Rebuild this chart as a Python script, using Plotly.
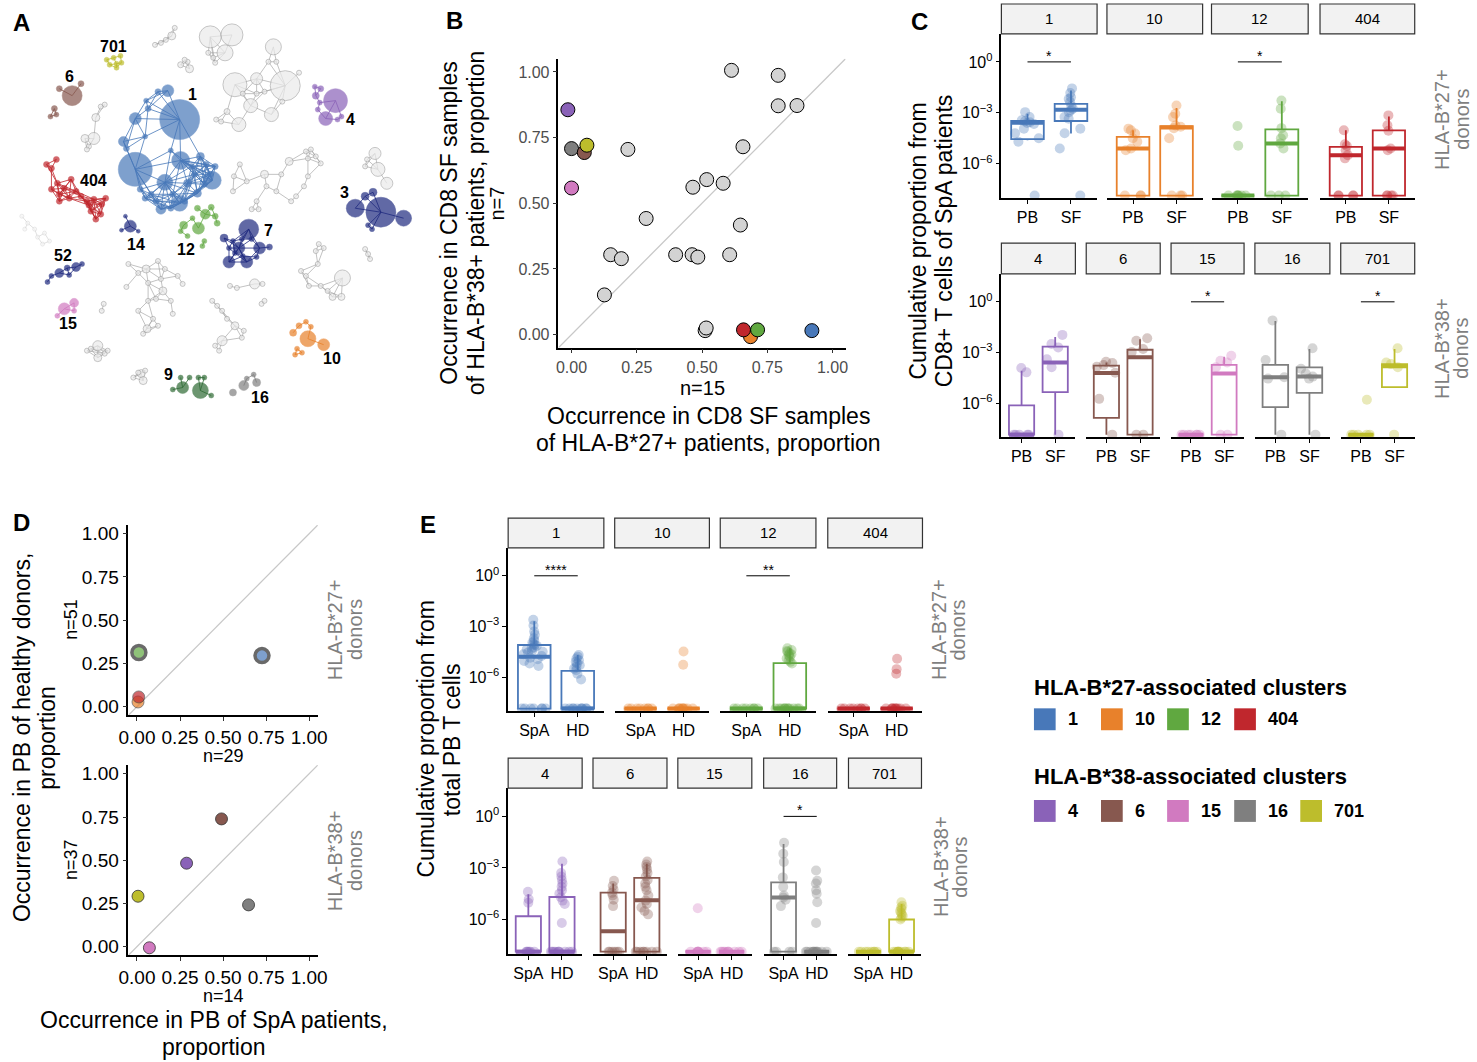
import math
import plotly.graph_objects as go

W, H = 1477, 1062
FONT = "Liberation Sans, Arial, Helvetica, sans-serif"

# ---------------- colours ----------------
COLORS = {'1': '#4878B9', '10': '#E8812B', '12': '#60A840', '404': '#C0272D',
          '4': '#8A62B8', '6': '#87584F', '15': '#D17AC0', '16': '#7F7F7F', '701': '#BDBD2C',
          '3': '#1F2A7F', '7': '#1F2A7F', '14': '#1F2A7F', '52': '#1F2A7F', '9': '#2F6B35'}
GRAY_FILL = '#EBEBEB'
GRAY_LINE = '#9A9A9A'

# ---------------- Panel A: network layout (x, y, radius) ----------------
NET_1 = [(172,118,20),(127,168,17),(160,89,6),(127,117,6),(115,140,5),(118,147,3),(173,159,9),(157,181,8),
         (172,202,8),(205,179,9),(153,208,5),(193,155,4),(199,163,3),(203,173,3),(140,107,3),(150,90,3),
         (138,99,2.5),(137,135,2.5),(163,149,2.5),(180,182,4),(190,192,4),(187,173,3),(197,183,3),(143,193,3),
         (137,197,3),(148,200,3),(165,193,3),(177,200,3),(163,207,3),(132,188,3),(184,165,3),(208,165,3)]
NET_404 = [(37,163,3),(47,158,3),(42,167,3),(48,182,3),(42,188,3),(50,193,3),(62,178,3),(55,187,3),(60,197,3),
           (67,190,3),(50,200,3),(78,200,3),(85,198,3),(82,210,3),(93,203,3),(87,218,3),(92,213,3),(97,197,3),
           (72,195,3),(80,204,3)]
NET_6 = [(63,94,10),(50,87,3),(72,82,3),(45,107,3),(41,115,2.5),(47,113,2.5)]
NET_701 = [(98,58,2.5),(105,56,2.5),(112,54,2.5),(101,63,2.5),(108,62,2.5),(113,61,2.5),(108,66,2.5)]
NET_4 = [(330,99,12),(320,117,7),(310,94,3.5),(315,87,3),(312,108,2.5),(314,101,2.5),(332,118,2.5),(336,115,2.5),(309,85,2.5)]
NET_3 = [(376,211,15),(350,207,9),(399,217,8),(360,195,4),(368,191,4),(363,224,2.5),(367,228,2.5)]
NET_7 = [(242,228,10),(232,247,6),(253,247,6),(222,261,6),(240,261,6),(217,237,4),(263,246,3),(226,240,2.5),
         (235,238,2.5),(245,238,2.5),(250,256,2.5),(228,252,2.5),(236,255,2.5),(222,247,2.5)]
NET_14 = [(122,225,6),(117,215,2),(113,229,2),(130,230,2)]
NET_12 = [(191,227,6),(198,213,5),(176,224,4),(190,207,3),(204,206,3),(208,215,3),(185,217,2.5),(180,235,2.5),
          (197,240,2.5),(195,245,2.5),(210,222,3),(173,230,2.5)]
NET_52 = [(50,272,4.5),(67,266,4.5),(58,267,3),(42,275,2.5),(38,281,2.5),(73,263,2.5),(60,274,2.5)]
NET_15 = [(55,308,6),(65,302,4.5),(48,315,2.5),(65,310,2.5)]
NET_10 = [(302,338,8),(318,344,6),(287,332,3.5),(293,325,3),(300,321,2.5),(305,326,2.5),(291,348,2.5),(296,352,2.5),(289,354,2.5)]
NET_9 = [(175,387,6),(193,390,8),(173,377,2.5),(182,377,2.5),(191,377,2.5),(197,377,2.5),(165,389,2.5),(204,395,2.5)]
NET_16 = [(237,385,5),(250,382,4),(226,392,3.5),(247,374,2.5),(240,378,2.5)]

GRAY_NETS = [
    [(203,35,11),(225,33,11),(218,51,8),(201,51,2.5),(206,56,2.5),(208,61,2.5)],
    [(267,45,8),(228,83,12),(279,84,15),(250,77,6),(244,104,7),(265,113,7),(232,123,7),(293,71,2.5),(262,60,2.5),
     (270,60,2.5),(258,90,2.5),(250,92,2.5),(214,120,2.5),(220,110,3),(209,118,2.5),(276,100,2.5),(236,92,2.5)],
    [(147,43,2.5),(153,41,2.5),(158,38,2.5),(164,34,4),(167,26,2.5)],
    [(173,63,3),(180,60,2.5),(182,67,4),(177,58,2.5)],
    [(85,137,6),(76,137,4),(87,116,4),(92,105,2.5),(96,103,2.5),(80,145,2.5),(78,148,2.5)],
    [(227,175,2.5),(233,163,2.5),(258,173,4),(283,160,4),(302,157,2.5),(302,175,2.5),(300,150,2.5),(305,148,2.5),
     (310,155,2.5),(240,180,2.5),(260,185,2.5),(270,190,2.5),(290,195,2.5),(285,200,2.5),(250,200,2.5),(245,208,2.5),
     (252,208,2.5),(226,190,2.5),(275,173,2.5),(315,162,2.5),(298,185,2.5)],
    [(337,277,8),(310,250,2.5),(313,243,2.5),(318,247,2.5),(312,263,2.5),(295,270,2.5),(300,275,2.5),(315,285,2.5),
     (322,290,2.5),(327,296,3.5),(336,296,3.5),(255,303,2.5),(258,300,2.5),(303,285,2.5)],
    [(120,263,2.5),(130,272,2.5),(138,268,4),(150,260,2.5),(140,282,2.5),(153,278,2.5),(155,290,4),(140,300,2.5),
     (130,310,2.5),(118,286,2.5),(95,303,2.5),(93,310,2.5),(170,275,2.5),(175,283,2.5),(163,300,2.5),(165,313,2.5),
     (145,318,2.5),(150,325,2.5),(139,328,4),(135,333,2.5),(148,298,2.5),(157,268,2.5)],
    [(370,152,6),(373,168,7),(382,182,6),(362,158,2.5),(360,165,2.5)],
    [(223,285,2.5),(230,287,2.5),(248,283,5),(256,283,2.5)],
    [(205,300,2.5),(210,305,2.5),(215,310,2.5),(220,318,2.5),(228,325,4),(237,330,2.5),(235,337,2.5),(215,340,5),
     (208,345,2.5),(212,350,2.5)],
    [(89,345,5),(89,357,4),(78,350,2.5),(96,353,2.5),(99,350,2.5),(82,348,2.5)],
    [(133,373,4),(135,380,4),(125,377,2.5),(130,372,2.5),(137,370,2.5)],
    [(360,248,2.5),(363,253,2.5),(365,258,2.5)],
]
FAINT_NET = [(12,215,2),(18,222,2),(15,228,2),(25,228,2),(35,232,2),(40,240,2),(33,243,2),(28,236,2)]

A_LABELS = ['701', '1', '6', '4', '404', '3', '14', '12', '7', '52', '15', '10', '9', '16']
A_LABEL_POS = [(105,45),(185,93),(60,75),(345,118),(85,179),(339,191),(128,243),(178,248),(262,229),
               (54,254),(59,323),(326,358),(161,374),(253,397)]

# ---------------- Panel B ----------------
B_GRAY_X = [0.613,0.792,0.792,0.864,0.657,0.216,0.286,0.518,0.465,0.581,0.647,0.150,0.191,0.399,0.462,0.484,0.606,0.126,0.512,0.516]
B_GRAY_Y = [1.006,0.987,0.871,0.872,0.715,0.705,0.442,0.590,0.561,0.576,0.417,0.304,0.289,0.304,0.304,0.295,0.304,0.151,0.015,0.025]
B_CLUSTERS = ['4', '16', '6', '701', '15', '10', '404', '12', '1']
B_X = [-0.014, 0.000, 0.049, 0.059, 0.000, 0.686, 0.659, 0.713, 0.921]
B_Y = [0.856, 0.708, 0.693, 0.721, 0.558, -0.008, 0.018, 0.018, 0.015]

# ---------------- Panel C (log10 proportions; None = zero) ----------------
Z = None
C_TOP = ['1', '10', '12', '404']
C_BOTTOM = ['4', '6', '15', '16', '701']
C_GROUPS = ['PB', 'SF']
# [q1, median, q3, lower whisker, upper whisker]
C_BOX_PB = {'1': [-4.55,-3.58,-3.48,-4.62,-3.05], '10': [Z,-5.1,-4.42,Z,-4.03], '12': [Z,Z,Z,Z,Z],
            '404': [Z,-5.49,-5.0,Z,-4.03], '4': [Z,Z,-6.14,Z,-4.08], '6': [-6.88,-4.22,-3.78,Z,-3.59],
            '15': [Z,Z,Z,Z,Z], '16': [-6.24,-4.47,-3.73,Z,-1.14], '701': [Z,Z,Z,Z,Z]}
C_BOX_SF = {'1': [-3.48,-2.82,-2.47,-4.22,-1.69], '10': [Z,-3.87,-3.79,Z,-2.72], '12': [Z,-4.8,-3.97,Z,-2.32],
            '404': [Z,-5.1,-4.03,Z,-3.21], '4': [-5.35,-3.59,-2.65,Z,-2.08], '6': [Z,-3.29,-2.84,Z,-2.22],
            '15': [Z,-4.24,-3.73,Z,-3.25], '16': [-5.39,-4.43,-3.88,Z,-2.8], '701': [-5.06,-3.82,-3.69,-5.06,-2.8]}
C_PTS_PB = {'1': [-2.96,-3.25,-3.44,-3.5,-3.55,-3.6,-3.65,-3.93,-4.2,-4.5,-4.7,Z],
            '10': [-3.93,-4.03,-4.22,-4.5,-4.7,-5.1,-5.2,Z,Z,Z],
            '12': [-3.77,-4.94,Z,Z,Z,Z,Z,Z,Z],
            '404': [-4.03,-4.85,-4.95,-5.2,-5.49,-5.68,Z,Z,Z,Z],
            '4': [-3.92,-4.18,Z,Z,Z,Z,Z],
            '6': [-3.55,-3.62,-3.75,-3.85,-4.2,-5.75,Z],
            '15': [Z,Z,Z,Z,Z,Z,Z],
            '16': [-1.1,-3.45,-4.47,-4.55,Z],
            '701': [-5.8,Z,Z,Z,Z,Z]}
C_PTS_SF = {'1': [-1.56,-1.83,-2.08,-2.18,-2.37,-2.6,-2.76,-2.85,-2.96,-3.25,-3.35,-3.93,-4.2,-5.1,Z],
            '10': [-2.57,-3.05,-3.25,-3.75,-3.82,-3.9,-4.5,Z,Z,Z],
            '12': [-2.28,-2.76,-3.9,-4.32,-4.5,-4.8,-5.1,Z,Z,Z],
            '404': [-3.15,-3.73,-4.05,-5.1,-5.2,Z,Z,Z,Z],
            '4': [-1.96,-2.5,-2.7,-3.4,-3.88,Z],
            '6': [-2.16,-2.31,-2.8,-2.98,Z,Z],
            '15': [-3.2,-3.49,-3.6,-3.88,Z,Z],
            '16': [-2.75,-3.97,-4.25,-4.43,-4.55,Z],
            '701': [-2.75,-3.6,-3.69,-3.88,Z]}
C_SIG = {'1': '*', '12': '*', '15': '*', '701': '*'}

# ---------------- Panel D ----------------
D_TOP = ['10', '404', '12', '1']
D_TOP_X = [0.006, 0.010, 0.011, 0.726]
D_TOP_Y = [0.027, 0.056, 0.313, 0.295]
D_TOP_HIGHLIGHT = ['12', '1']
D_BOT = ['4', '6', '15', '16', '701']
D_BOT_X = [0.288, 0.491, 0.072, 0.648, 0.006]
D_BOT_Y = [0.483, 0.739, -0.006, 0.242, 0.292]

# ---------------- Panel E ----------------
E_TOP = ['1', '10', '12', '404']
E_BOTTOM = ['4', '6', '15', '16', '701']
E_GROUPS = ['SpA', 'HD']
E_BOX_SPA = {'1': [Z,-4.79,-4.1,Z,-2.7], '10': [Z,Z,Z,Z,Z], '12': [Z,Z,Z,Z,Z], '404': [Z,Z,Z,Z,Z],
             '4': [Z,Z,-5.81,Z,-4.53], '6': [Z,-6.69,-4.43,Z,-3.9], '15': [Z,Z,Z,Z,Z],
             '16': [Z,-4.72,-3.84,Z,-1.61], '701': [Z,Z,Z,Z,Z]}
E_BOX_HD = {'1': [Z,Z,-5.63,Z,-4.69], '10': [Z,Z,Z,Z,Z], '12': [Z,Z,-5.18,Z,-4.3], '404': [Z,Z,Z,Z,Z],
            '4': [Z,Z,-4.69,Z,-2.76], '6': [Z,-4.88,-3.58,Z,-2.76], '15': [Z,Z,Z,Z,Z],
            '16': [Z,Z,Z,Z,Z], '701': [Z,Z,-6.0,Z,-5.1]}
E_PTS_SPA = {'1': [-2.6,-2.95,-3.3,-3.5,-3.7,-3.85,-3.95,-4.05,-4.1,-4.15,-4.25,-4.3,-4.35,-4.45,-4.5,-4.55,-4.65,
                   -4.75,-4.85,-4.95,-5.05,-5.2,-5.35,Z,Z,Z,Z,Z,Z,Z],
             '10': [Z]*8, '12': [Z]*8, '404': [Z]*8,
             '4': [-4.39,-4.82,-5.02,Z,Z,Z,Z,Z,Z],
             '6': [-3.75,-4.05,-4.25,-4.45,-4.6,-4.85,-5.22,Z,Z,Z,Z,Z,Z],
             '15': [-5.35,Z,Z,Z,Z,Z,Z,Z,Z],
             '16': [-1.54,-2.17,-2.65,-3.55,-4.1,-4.6,-4.72,-4.85,-5.22,Z,Z,Z,Z],
             '701': [Z]*8}
E_PTS_HD = {'1': [-4.69,-4.8,-4.9,-5.0,-5.1,-5.2,-5.3,-5.4,-5.5,-5.6,-5.8,-6.15,Z,Z,Z,Z,Z,Z,Z,Z,Z,Z],
            '10': [-4.49,-5.27,Z,Z,Z,Z,Z,Z,Z,Z,Z,Z],
            '12': [-4.3,-4.4,-4.45,-4.5,-4.6,-4.65,-4.7,-4.8,-4.9,-5.0,-5.1,-5.2,Z,Z,Z,Z,Z,Z,Z,Z,Z,Z,Z,Z],
            '404': [-4.92,-5.53,-5.8,Z,Z,Z,Z,Z,Z,Z,Z,Z,Z],
            '4': [-2.62,-3.3,-3.5,-3.7,-3.9,-4.1,-4.3,-4.5,-4.7,-4.9,-5.1,-6.2,Z,Z,Z,Z,Z,Z,Z,Z,Z,Z],
            '6': [-2.62,-2.8,-2.95,-3.1,-3.3,-3.5,-3.7,-3.9,-4.1,-4.3,-4.6,-4.9,-5.1,-5.3,-5.5,-5.7,Z,Z,Z,Z,Z,Z,Z,Z],
            '15': [Z]*10,
            '16': [-3.15,-3.75,-3.9,-4.3,-4.5,-5.0,-6.2,Z,Z,Z,Z,Z,Z,Z,Z,Z,Z,Z,Z],
            '701': [-5.0,-5.2,-5.3,-5.4,-5.5,-5.6,-5.7,-5.8,-5.9,-6.0,Z,Z,Z,Z,Z,Z,Z,Z,Z,Z]}
E_SIG = {'1': '****', '12': '**', '16': '*'}

LEGEND_B27 = ['1', '10', '12', '404']
LEGEND_B38 = ['4', '6', '15', '16', '701']

# ---------------- helpers ----------------
ZERO_LOG = -7.87
LOG_RANGE = [-8.03, 1.65]

def lv(v):
    return 10 ** (ZERO_LOG if v is None else v)

layout = dict(width=W, height=H, margin=dict(l=0, r=0, t=0, b=0), paper_bgcolor='white',
              plot_bgcolor='white', showlegend=False, font=dict(family=FONT, color='black'),
              boxmode='overlay')
shapes, annotations, traces = [], [], []
ax_n = [0]

def new_axes(x0, x1, y0, y1, xa, ya):
    ax_n[0] += 1
    n = ax_n[0]
    s = '' if n == 1 else str(n)
    xa = dict(xa); ya = dict(ya)
    xa.update(domain=[x0 / W, x1 / W], anchor='y' + s)
    ya.update(domain=[1 - y1 / H, 1 - y0 / H], anchor='x' + s)
    layout['xaxis' + s] = xa
    layout['yaxis' + s] = ya
    return 'x' + s, 'y' + s

def ann(x, y, text, size, color='black', bold=False, angle=0, xanchor='center', yanchor='middle'):
    if bold:
        text = '<b>' + text + '</b>'
    annotations.append(dict(xref='paper', yref='paper', x=x / W, y=1 - y / H, text=text, showarrow=False,
                            textangle=angle, xanchor=xanchor, yanchor=yanchor,
                            font=dict(size=size, color=color, family=FONT)))

def ann_lines(x, y, lines, size, spacing, color='black', vertical=False):
    """multi-line text with controlled spacing; vertical=True -> rotated -90, lines run left to right"""
    n = len(lines)
    for k, t in enumerate(lines):
        off = (k - (n - 1) / 2) * spacing
        if vertical:
            ann(x + off, y, t, size, color=color, angle=-90)
        else:
            ann(x, y + off, t, size, color=color)

def strip(x0, x1, y0, y1, label):
    shapes.append(dict(type='rect', xref='paper', yref='paper', x0=x0 / W, x1=x1 / W,
                       y0=1 - y1 / H, y1=1 - y0 / H, fillcolor='#F2F2F2', line=dict(color='#333333', width=1.2)))
    ann((x0 + x1) / 2, (y0 + y1) / 2, label, 15)

# ---------------- Panel A ----------------
xa, ya = new_axes(0, 460, 0, 420,
                  dict(range=[0, 460], visible=False, fixedrange=True),
                  dict(range=[420, 0], visible=False, fixedrange=True))

def edges(nodes, gap):
    ex, ey = [], []
    for i in range(len(nodes)):
        for j in range(i + 1, len(nodes)):
            (x1, y1, r1), (x2, y2, r2) = nodes[i], nodes[j]
            if math.hypot(x1 - x2, y1 - y2) < r1 + r2 + gap:
                ex += [x1, x2, None]; ey += [y1, y2, None]
    return ex, ey

def draw_net(nodes, fill, line, gap, ecolor, ewidth=0.8, lwidth=0.6):
    ex, ey = edges(nodes, gap)
    traces.append(go.Scatter(x=ex, y=ey, mode='lines', line=dict(color=ecolor, width=ewidth),
                             xaxis=xa, yaxis=ya, hoverinfo='skip'))
    traces.append(go.Scatter(x=[n[0] for n in nodes], y=[n[1] for n in nodes], mode='markers',
                             marker=dict(size=[2 * n[2] for n in nodes], color=fill,
                                         line=dict(color=line, width=lwidth)),
                             xaxis=xa, yaxis=ya, hoverinfo='skip'))

draw_net(FAINT_NET, '#F6F6F6', '#D0D0D0', 6, '#D8D8D8')
for g in GRAY_NETS:
    draw_net(g, GRAY_FILL, GRAY_LINE, 14, '#A8A8A8', 0.7, 0.8)
colored = [(NET_1, '1', 24), (NET_404, '404', 16), (NET_6, '6', 5), (NET_701, '701', 3), (NET_4, '4', 4),
           (NET_3, '3', 4), (NET_7, '7', 10), (NET_14, '14', 4), (NET_12, '12', 5), (NET_52, '52', 4),
           (NET_15, '15', 3), (NET_10, '10', 4), (NET_9, '9', 4), (NET_16, '16', 4)]
for nodes, name, gap in colored:
    c = COLORS[name]
    draw_net(nodes, c, c, gap, c, 0.8, 0.5)
for lab, (lx, ly) in zip(A_LABELS, A_LABEL_POS):
    annotations.append(dict(xref=xa, yref=ya, x=lx, y=ly, text='<b>' + lab + '</b>', showarrow=False,
                            font=dict(size=16, color='black', family=FONT)))

# ---------------- Panel B ----------------
lin_ticks = [0, 0.25, 0.5, 0.75, 1.0]
lin_text = ['0.00', '0.25', '0.50', '0.75', '1.00']
LIN_RANGE = [-0.05, 1.05]

def lin_axis(size, color):
    return dict(range=LIN_RANGE, tickvals=lin_ticks, ticktext=lin_text, showline=True, linecolor='black',
                linewidth=1.5, ticks='outside', ticklen=4, tickcolor='#333333', showgrid=False, zeroline=False,
                tickfont=dict(size=size, color=color, family=FONT), fixedrange=True)

bx, by = new_axes(556, 847, 57, 347, lin_axis(16, '#4D4D4D'), lin_axis(16, '#4D4D4D'))
traces.append(go.Scatter(x=LIN_RANGE, y=LIN_RANGE, mode='lines', line=dict(color='#C8C8C8', width=1.3),
                         xaxis=bx, yaxis=by, hoverinfo='skip'))
traces.append(go.Scatter(x=B_GRAY_X, y=B_GRAY_Y, mode='markers', xaxis=bx, yaxis=by,
                         marker=dict(size=14, color='#D3D3D3', line=dict(color='black', width=1))))
traces.append(go.Scatter(x=B_X, y=B_Y, mode='markers', xaxis=bx, yaxis=by,
                         marker=dict(size=14, color=[COLORS[c] for c in B_CLUSTERS], line=dict(color='black', width=1))))
ann_lines(459, 222, ['Occurrence in CD8 SF samples', 'of HLA-B*38+ patients, proportion'], 23, 27, vertical=True)
ann(494, 202, 'n=7', 20, angle=-90)
ann(702, 387, 'n=15', 20)
ann_lines(708, 429, ['Occurrence in CD8 SF samples', 'of HLA-B*27+ patients, proportion'], 23, 27)

# ---------------- box panels ----------------
LOG_TICKS = [1, 1e-3, 1e-6]
LOG_TEXT = ['10<sup>0</sup>', '10<sup>−3</sup>', '10<sup>−6</sup>']

def box_panel(x0, x1, y0, y1, cluster, groups, box_a, box_b, pts_a, pts_b, sig, first, ptsize):
    color = COLORS[cluster]
    xax = dict(range=[-0.6, 1.6], tickvals=[0, 1], ticktext=groups, showline=True, linecolor='black',
               linewidth=1.5, ticks='outside', ticklen=4, tickcolor='black', showgrid=False, zeroline=False,
               tickfont=dict(size=16, color='black', family=FONT), fixedrange=True)
    yax = dict(type='log', range=LOG_RANGE, showgrid=False, zeroline=False, fixedrange=True)
    if first:
        yax.update(showline=True, linecolor='black', linewidth=1.5, ticks='outside', ticklen=4, tickcolor='black',
                   tickvals=LOG_TICKS, ticktext=LOG_TEXT, tickfont=dict(size=16, color='black', family=FONT))
    else:
        yax.update(showline=False, showticklabels=False, ticks='')
    xr, yr = new_axes(x0, x1, y0, y1, xax, yax)
    st = [box_a, box_b]
    med = [lv(s[1]) for s in st]
    traces.append(go.Box(x=[0, 1], q1=[lv(s[0]) for s in st], median=med, q3=[lv(s[2]) for s in st],
                         lowerfence=[lv(s[3]) for s in st], upperfence=[lv(s[4]) for s in st],
                         width=0.75, whiskerwidth=0, boxpoints=False, fillcolor='rgba(0,0,0,0)',
                         line=dict(color=color, width=1.8), xaxis=xr, yaxis=yr, hoverinfo='skip'))
    traces.append(go.Box(x=[0, 1], q1=med, median=med, q3=med, lowerfence=med, upperfence=med,
                         width=0.75, whiskerwidth=0, boxpoints=False, fillcolor='rgba(0,0,0,0)',
                         line=dict(color=color, width=4), xaxis=xr, yaxis=yr, hoverinfo='skip'))
    px = [0] * len(pts_a) + [1] * len(pts_b)
    py = [lv(v) for v in list(pts_a) + list(pts_b)]
    traces.append(go.Box(x=px, y=py, boxpoints='all', jitter=0.9, pointpos=0, width=0.75, whiskerwidth=0,
                         fillcolor='rgba(0,0,0,0)', line=dict(color='rgba(0,0,0,0)', width=0),
                         marker=dict(color=color, opacity=0.33, size=ptsize),
                         xaxis=xr, yaxis=yr, hoverinfo='skip'))
    if sig:
        traces.append(go.Scatter(x=[0, 1], y=[LOG_TICKS[0], LOG_TICKS[0]], mode='lines',
                                 line=dict(color='black', width=1), xaxis=xr, yaxis=yr, hoverinfo='skip'))
        annotations.append(dict(xref=xr, yref=yr, x=0.5, y=0, text=sig, showarrow=False, yanchor='bottom',
                                yshift=-4, font=dict(size=14, color='black', family=FONT)))

# Panel C
C_TOP_X = [(1005, 1102), (1112, 1209), (1218, 1316), (1328, 1424)]
C_BOT_X = [(1005, 1080), (1091, 1166), (1177, 1251), (1262, 1338), (1349, 1424)]
for i, (cl, (x0, x1)) in enumerate(zip(C_TOP, C_TOP_X)):
    strip(x0, x1, 2, 32, cl)
    box_panel(x0, x1, 32, 197, cl, C_GROUPS, C_BOX_PB[cl], C_BOX_SF[cl], C_PTS_PB[cl], C_PTS_SF[cl],
              C_SIG.get(cl), i == 0, 10)
for i, (cl, (x0, x1)) in enumerate(zip(C_BOTTOM, C_BOT_X)):
    strip(x0, x1, 242, 273, cl)
    box_panel(x0, x1, 273, 437, cl, C_GROUPS, C_BOX_PB[cl], C_BOX_SF[cl], C_PTS_PB[cl], C_PTS_SF[cl],
              C_SIG.get(cl), i == 0, 10)
ann_lines(934, 240, ['Cumulative proportion from', 'CD8+ T cells of SpA patients'], 23, 26, vertical=True)
ann_lines(1461, 118, ['HLA-B*27+', 'donors'], 20, 20, color='#7F7F7F', vertical=True)
ann_lines(1461, 348, ['HLA-B*38+', 'donors'], 20, 20, color='#7F7F7F', vertical=True)

# Panel E
E_TOP_X = [(505, 602), (613, 709), (720, 817), (829, 925)]
E_BOT_X = [(505, 580), (591, 666), (677, 752), (764, 838), (850, 924)]
for i, (cl, (x0, x1)) in enumerate(zip(E_TOP, E_TOP_X)):
    strip(x0, x1, 518, 548, cl)
    box_panel(x0, x1, 548, 712, cl, E_GROUPS, E_BOX_SPA[cl], E_BOX_HD[cl], E_PTS_SPA[cl], E_PTS_HD[cl],
              E_SIG.get(cl), i == 0, 10)
for i, (cl, (x0, x1)) in enumerate(zip(E_BOTTOM, E_BOT_X)):
    strip(x0, x1, 759, 789, cl)
    box_panel(x0, x1, 789, 956, cl, E_GROUPS, E_BOX_SPA[cl], E_BOX_HD[cl], E_PTS_SPA[cl], E_PTS_HD[cl],
              E_SIG.get(cl), i == 0, 10)
ann_lines(435, 740, ['Cumulative proportion from', 'total PB T cells'], 23, 26, vertical=True)
ann_lines(951, 630, ['HLA-B*27+', 'donors'], 20, 20, color='#7F7F7F', vertical=True)
ann_lines(953, 868, ['HLA-B*38+', 'donors'], 20, 20, color='#7F7F7F', vertical=True)

# ---------------- Panel D ----------------
dx1, dy1 = new_axes(120, 312, 525, 716, lin_axis(19, 'black'), lin_axis(19, 'black'))
traces.append(go.Scatter(x=LIN_RANGE, y=LIN_RANGE, mode='lines', line=dict(color='#C8C8C8', width=1.3),
                         xaxis=dx1, yaxis=dy1, hoverinfo='skip'))
traces.append(go.Scatter(x=D_TOP_X, y=D_TOP_Y, mode='markers', xaxis=dx1, yaxis=dy1,
                         marker=dict(size=[14 if c in D_TOP_HIGHLIGHT else 12 for c in D_TOP],
                                     color=[COLORS[c] for c in D_TOP],
                                     line=dict(color=['#2B2B2B' if c in D_TOP_HIGHLIGHT else '#333333' for c in D_TOP],
                                               width=[3.5 if c in D_TOP_HIGHLIGHT else 0.8 for c in D_TOP]))))
dx2, dy2 = new_axes(120, 312, 766, 957, lin_axis(19, 'black'), lin_axis(19, 'black'))
traces.append(go.Scatter(x=LIN_RANGE, y=LIN_RANGE, mode='lines', line=dict(color='#C8C8C8', width=1.3),
                         xaxis=dx2, yaxis=dy2, hoverinfo='skip'))
traces.append(go.Scatter(x=D_BOT_X, y=D_BOT_Y, mode='markers', xaxis=dx2, yaxis=dy2,
                         marker=dict(size=12, color=[COLORS[c] for c in D_BOT], line=dict(color='#333333', width=0.8))))
ann(62, 620, 'n=51', 18, angle=-90)
ann(62, 861, 'n=37', 18, angle=-90)
ann(216, 757, 'n=29', 18)
ann(216, 998, 'n=14', 18)
ann_lines(25, 738, ['Occurrence in PB of healthy donors,', 'proportion'], 23, 26, vertical=True)
ann_lines(207, 1035, ['Occurrence in PB of SpA patients,', 'proportion'], 23, 27)
ann_lines(339, 630, ['HLA-B*27+', 'donors'], 20, 20, color='#7F7F7F', vertical=True)
ann_lines(339, 862, ['HLA-B*38+', 'donors'], 20, 20, color='#7F7F7F', vertical=True)

# ---------------- Legend ----------------
LEG_X = [1038, 1106, 1173, 1241, 1308]
def legend_row(title, items, ty, ry):
    ann(1036, ty, title, 22, bold=True, xanchor='left')
    for cl, x in zip(items, LEG_X):
        shapes.append(dict(type='rect', xref='paper', yref='paper', x0=x / W, x1=(x + 22) / W,
                           y0=1 - (ry + 11) / H, y1=1 - (ry - 11) / H, fillcolor=COLORS[cl], line=dict(width=0)))
        ann(x + 32, ry, cl, 18, bold=True, xanchor='left')
legend_row('HLA-B*27-associated clusters', LEGEND_B27, 688, 720)
legend_row('HLA-B*38-associated clusters', LEGEND_B38, 777, 812)

# ---------------- panel letters ----------------
for letter, (lx, ly) in zip('ABCDE', [(12, 21), (451, 19), (922, 20), (12, 522), (424, 524)]):
    ann(lx, ly, letter, 24, bold=True)

layout['shapes'] = shapes
layout['annotations'] = annotations
fig = go.Figure(data=traces, layout=layout)
fig.write_html("out.html", config={'responsive': False, 'displayModeBar': False},
               post_script="document.body.style.margin='0px';document.body.style.overflow='hidden';")
